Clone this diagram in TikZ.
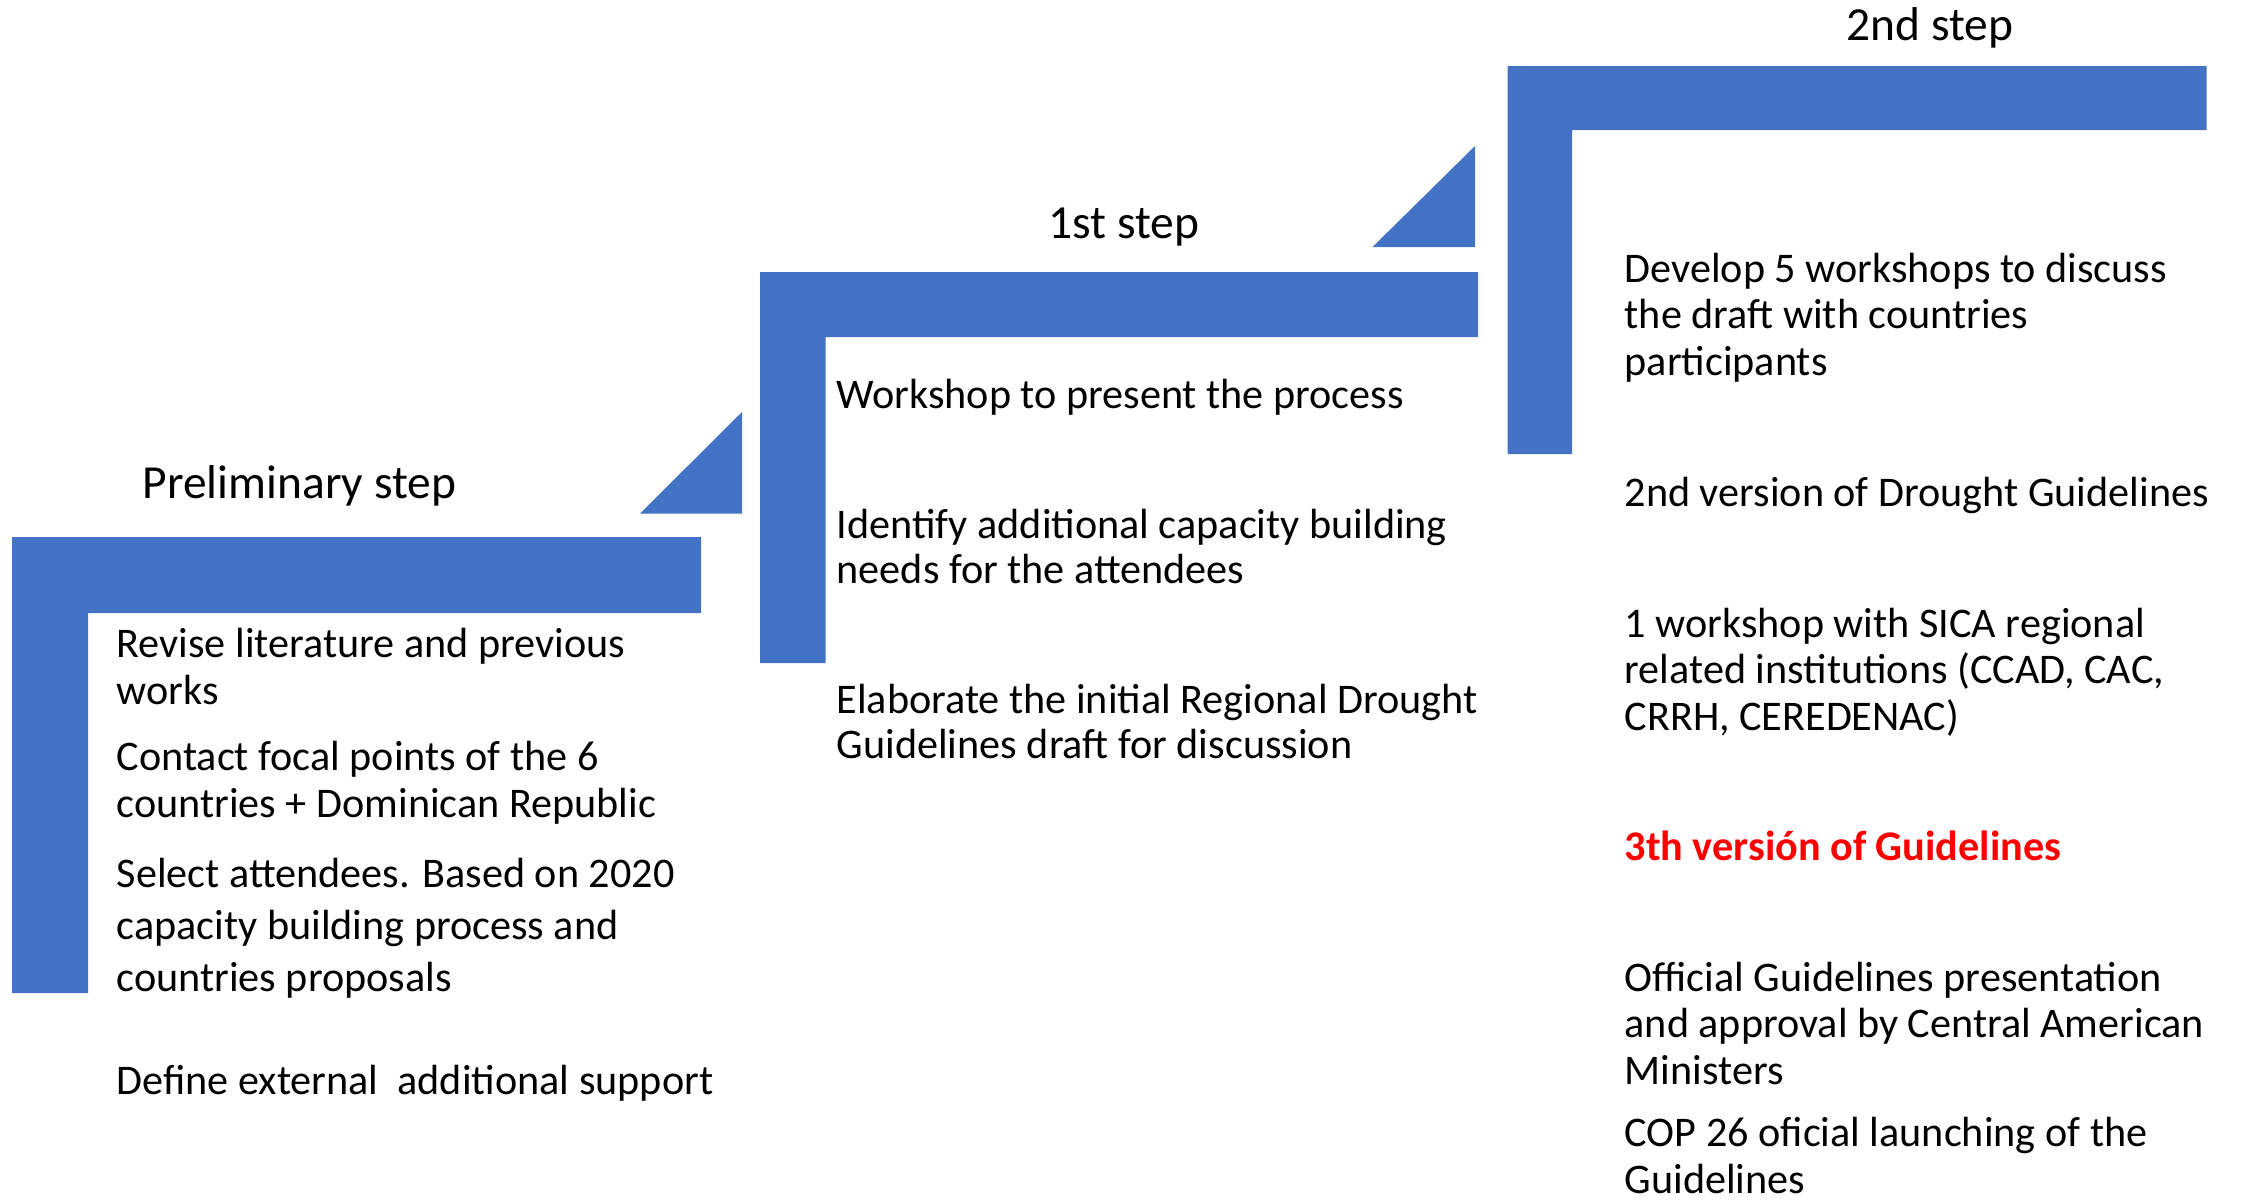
\documentclass[tikz,border=0pt]{standalone}
\usepackage{fontspec}
\setmainfont{Carlito}
\usepackage{xcolor}
\usetikzlibrary{calc}
\definecolor{stepblue}{HTML}{4472C4}
\definecolor{hotred}{HTML}{FF0000}

\begin{document}
\begin{tikzpicture}[x=0.01cm,y=-0.01cm,line join=round,
  item/.style={anchor=base west,align=left,inner sep=0pt,font=\fontsize{12}{13.2}\selectfont},
  head/.style={anchor=base west,inner sep=0pt,font=\fontsize{13.5}{16}\selectfont}]
\useasboundingbox (0,0) rectangle (2244,1199);
% stair shapes
\foreach \xa/\ya/\xb/\yb/\xc/\yc in {12/537/701/613/88/993,760/272/1478/337/825.5/663,1507.5/66/2206.5/130/1572/454}
{\fill[stepblue] (\xa,\ya) -| (\xb,\yb) -| (\xc,\yc) -| cycle;}
\foreach \xa/\xb/\ya/\yb in {640/742/513.5/412,1372.5/1475/247/146}
{\fill[stepblue] (\xa,\ya) -| (\xb,\yb) -- cycle;}
% headings
\node[head] (prelimhead) at (142,498) {Preliminary step};
\node[head] (firsthead) at (1048,238) {1st step};
\node[head] (secondhead) at (1846,40) {2nd step};
% preliminary step (multi-line nodes sit on their last line)
\node[item] (p1) at (116,704) {Revise literature and previous\\works};
\node[item] (p2) at (116,817) {Contact focal points of the 6\\countries + Dominican Republic};
\node[item,font=\fontsize{12}{14.7}\selectfont] (p3) at (116,991) {Select attendees. Based on 2020\\capacity building process and\\countries proposals};
\node[item] (p4) at (116,1094) {Define external~ additional support};
% 1st step
\node[item] (f1) at (836,408) {Workshop to present the process};
\node[item,font=\fontsize{12}{12.6}\selectfont] (f2) at (836,583) {Identify additional capacity building\\needs for the attendees};
\node[item,font=\fontsize{12}{12.6}\selectfont] (f3) at (836,758) {Elaborate the initial Regional Drought\\Guidelines draft for discussion};
% 2nd step
\node[item] (s1) at (1624,375) {Develop 5 workshops to discuss\\the draft with countries\\participants};
\node[item] (s2) at (1624,506) {2nd version of Drought Guidelines};
\node[item] (s3) at (1624,730) {1 workshop with SICA regional\\related institutions (CCAD, CAC,\\CRRH, CEREDENAC)};
\node[item,text=hotred,font=\fontsize{12}{13.2}\selectfont\bfseries] (s4) at (1624,860) {3th versión of Guidelines};
\node[item] (s5) at (1624,1084) {Official Guidelines presentation\\and approval by Central American\\Ministers};
\node[item] (s6) at (1624,1193) {COP 26 oficial launching of the\\Guidelines};
\end{tikzpicture}
\end{document}
